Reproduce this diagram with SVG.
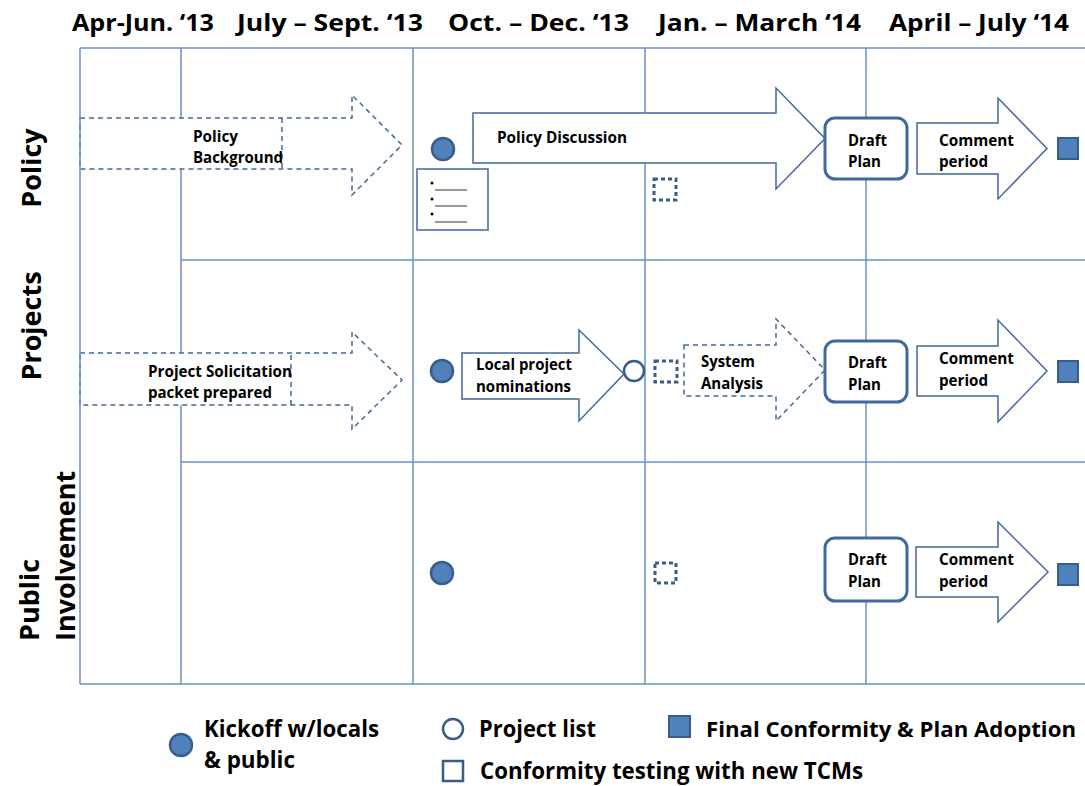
<svg xmlns="http://www.w3.org/2000/svg" width="1085" height="786" viewBox="0 0 1085 786">
<style>
.grid{stroke:#6a8fc8;stroke-width:1.5;fill:none}
.arrow{fill:#fff;stroke:#41699c;stroke-width:1.5;stroke-linejoin:miter}
.darrow{fill:#fff;stroke:#41699c;stroke-width:1.5;stroke-dasharray:5 4}
.dline{stroke:#41699c;stroke-width:1.5;stroke-dasharray:5 4;fill:none}
.box{fill:#fff;stroke:#41699c;stroke-width:3}
.kick{fill:#4f81bd;stroke:#385d8a;stroke-width:2.5}
.open{fill:#fff;stroke:#385d8a;stroke-width:2.5}
.fin{fill:#4f81bd;stroke:#385d8a;stroke-width:2}
.conf{fill:none;stroke:#385d8a;stroke-width:3;stroke-dasharray:4 3}
.confl{fill:#fff;stroke:#385d8a;stroke-width:2.5}
text{font-family:"Open Sans","Liberation Sans",sans-serif;font-weight:bold;fill:#000}
.hd{font-size:24px}
.row{font-size:27px}
.lb{font-size:16px}
.lg{font-size:23px}
</style>
<rect width="1085" height="786" fill="#fff"/>
<g id="grid">
<line class="grid" x1="80" y1="48" x2="1085" y2="48"/>
<line class="grid" x1="80" y1="684" x2="1085" y2="684"/>
<line class="grid" x1="181" y1="48" x2="181" y2="684"/>
<line class="grid" x1="413" y1="48" x2="413" y2="684"/>
<line class="grid" x1="645" y1="48" x2="645" y2="684"/>
<line class="grid" x1="866" y1="48" x2="866" y2="684"/>
<line class="grid" x1="181" y1="260" x2="1085" y2="260"/>
<line class="grid" x1="181" y1="462" x2="1085" y2="462"/>
</g>
<g id="headers">
<text class="hd" x="72" y="31" textLength="142" lengthAdjust="spacingAndGlyphs">Apr-Jun. ‘13</text>
<text class="hd" x="237" y="31" textLength="186" lengthAdjust="spacingAndGlyphs">July – Sept. ‘13</text>
<text class="hd" x="448" y="31" textLength="181" lengthAdjust="spacingAndGlyphs">Oct. – Dec. ‘13</text>
<text class="hd" x="658" y="31" textLength="203" lengthAdjust="spacingAndGlyphs">Jan. – March ‘14</text>
<text class="hd" x="889" y="31" textLength="180" lengthAdjust="spacingAndGlyphs">April – July ‘14</text>
</g>
<g id="rowlabels">
<text class="row" transform="translate(41,168) rotate(-90)" text-anchor="middle">Policy</text>
<text class="row" transform="translate(41,326) rotate(-90)" text-anchor="middle">Projects</text>
<text class="row" transform="translate(39,641) rotate(-90)">Public</text>
<text class="row" transform="translate(75,641) rotate(-90)">Involvement</text>
</g>
<g id="policy-background">
<polygon class="darrow" points="80,118 352,118 352,95 402,145 352,195 352,169 80,169"/>
<line class="dline" x1="282" y1="118" x2="282" y2="169"/>
<text class="lb" x="193" y="142" textLength="45" lengthAdjust="spacingAndGlyphs">Policy</text>
<text class="lb" x="193" y="163" textLength="90" lengthAdjust="spacingAndGlyphs">Background</text>
</g>
<g id="policy-kickoff"><circle class="kick" cx="443" cy="149" r="11"/></g>
<g id="policy-list">
<rect x="417" y="169" width="71" height="61" fill="#fff" stroke="#41699c" stroke-width="1.5"/>
<circle cx="432" cy="183" r="1.5" fill="#000"/>
<circle cx="432" cy="199" r="1.5" fill="#000"/>
<circle cx="432" cy="214" r="1.5" fill="#000"/>
<line x1="435" y1="190" x2="467" y2="190" stroke="#333" stroke-width="1"/>
<line x1="435" y1="206" x2="467" y2="206" stroke="#333" stroke-width="1"/>
<line x1="435" y1="222" x2="467" y2="222" stroke="#333" stroke-width="1"/>
</g>
<g id="policy-discussion">
<polygon class="arrow" points="473,113 776,113 776,88 825,138.5 776,189 776,163 473,163"/>
<text class="lb" x="497" y="143" textLength="130" lengthAdjust="spacingAndGlyphs">Policy Discussion</text>
</g>
<g id="policy-conformity"><rect class="conf" x="654" y="179" width="22" height="21"/></g>
<g id="policy-draft">
<rect class="box" x="825" y="118" width="82" height="61" rx="10"/>
<text class="lb" x="848" y="146" textLength="39" lengthAdjust="spacingAndGlyphs">Draft</text>
<text class="lb" x="848" y="167" textLength="33" lengthAdjust="spacingAndGlyphs">Plan</text>
</g>
<g id="policy-comment">
<polygon class="arrow" points="917,123 998,123 998,98 1047,148.5 998,199 998,174 917,174"/>
<text class="lb" x="939" y="146" textLength="75" lengthAdjust="spacingAndGlyphs">Comment</text>
<text class="lb" x="939" y="167" textLength="49" lengthAdjust="spacingAndGlyphs">period</text>
</g>
<g id="policy-final"><rect class="fin" x="1058" y="138" width="20" height="21"/></g>
<g id="projects-solicitation">
<polygon class="darrow" points="80,353 352,353 352,332 402,380 352,429 352,405 80,405"/>
<line class="dline" x1="291" y1="355" x2="291" y2="405"/>
<text class="lb" x="148" y="377" textLength="144" lengthAdjust="spacingAndGlyphs">Project Solicitation</text>
<text class="lb" x="148" y="398" textLength="124" lengthAdjust="spacingAndGlyphs">packet prepared</text>
</g>
<g id="projects-kickoff"><circle class="kick" cx="442" cy="371" r="11"/></g>
<g id="projects-nominations">
<polygon class="arrow" points="462,353 579,353 579,330 624,374 579,421 579,399 462,399"/>
<text class="lb" x="476" y="370" textLength="96" lengthAdjust="spacingAndGlyphs">Local project</text>
<text class="lb" x="476" y="392" textLength="95" lengthAdjust="spacingAndGlyphs">nominations</text>
</g>
<g id="projects-list"><circle class="open" cx="634" cy="371" r="10"/></g>
<g id="projects-conformity"><rect class="conf" x="655" y="361" width="22" height="21"/></g>
<g id="projects-system">
<polygon class="darrow" points="684,345 776,345 776,319 825,370 776,421 776,396 684,396"/>
<text class="lb" x="701" y="367" textLength="54" lengthAdjust="spacingAndGlyphs">System</text>
<text class="lb" x="701" y="389" textLength="62" lengthAdjust="spacingAndGlyphs">Analysis</text>
</g>
<g id="projects-draft">
<rect class="box" x="825" y="341" width="82" height="61" rx="10"/>
<text class="lb" x="848" y="368" textLength="39" lengthAdjust="spacingAndGlyphs">Draft</text>
<text class="lb" x="848" y="390" textLength="33" lengthAdjust="spacingAndGlyphs">Plan</text>
</g>
<g id="projects-comment">
<polygon class="arrow" points="917,346 998,346 998,320 1047,371 998,422 998,396 917,396"/>
<text class="lb" x="939" y="364" textLength="75" lengthAdjust="spacingAndGlyphs">Comment</text>
<text class="lb" x="939" y="386" textLength="49" lengthAdjust="spacingAndGlyphs">period</text>
</g>
<g id="projects-final"><rect class="fin" x="1058" y="361" width="20" height="21"/></g>
<g id="public-kickoff"><circle class="kick" cx="442" cy="573" r="11"/></g>
<g id="public-conformity"><rect class="conf" x="655" y="563" width="21" height="20"/></g>
<g id="public-draft">
<rect class="box" x="825" y="538" width="82" height="63" rx="10"/>
<text class="lb" x="848" y="565" textLength="39" lengthAdjust="spacingAndGlyphs">Draft</text>
<text class="lb" x="848" y="587" textLength="33" lengthAdjust="spacingAndGlyphs">Plan</text>
</g>
<g id="public-comment">
<polygon class="arrow" points="916,547 998,547 998,522 1048,572 998,622 998,597 916,597"/>
<text class="lb" x="939" y="565" textLength="75" lengthAdjust="spacingAndGlyphs">Comment</text>
<text class="lb" x="939" y="587" textLength="49" lengthAdjust="spacingAndGlyphs">period</text>
</g>
<g id="public-final"><rect class="fin" x="1058" y="564" width="20" height="21"/></g>
<g id="grid-border"><line class="grid" x1="80" y1="48" x2="80" y2="684"/></g>
<g id="legend">
<circle class="kick" cx="181" cy="745" r="11"/>
<text class="lg" x="204" y="737" textLength="175" lengthAdjust="spacingAndGlyphs">Kickoff w/locals</text>
<text class="lg" x="204" y="768" textLength="91" lengthAdjust="spacingAndGlyphs">&amp; public</text>
<circle class="open" cx="453" cy="729" r="10"/>
<text class="lg" x="479" y="737" textLength="117" lengthAdjust="spacingAndGlyphs">Project list</text>
<rect class="fin" x="669" y="716" width="21" height="21"/>
<text class="lg" x="706" y="737" style="font-size:21px" textLength="370" lengthAdjust="spacingAndGlyphs">Final Conformity &amp; Plan Adoption</text>
<rect class="confl" x="443" y="761" width="20" height="20"/>
<text class="lg" x="480" y="779" textLength="383" lengthAdjust="spacingAndGlyphs">Conformity testing with new TCMs</text>
</g>
</svg>
